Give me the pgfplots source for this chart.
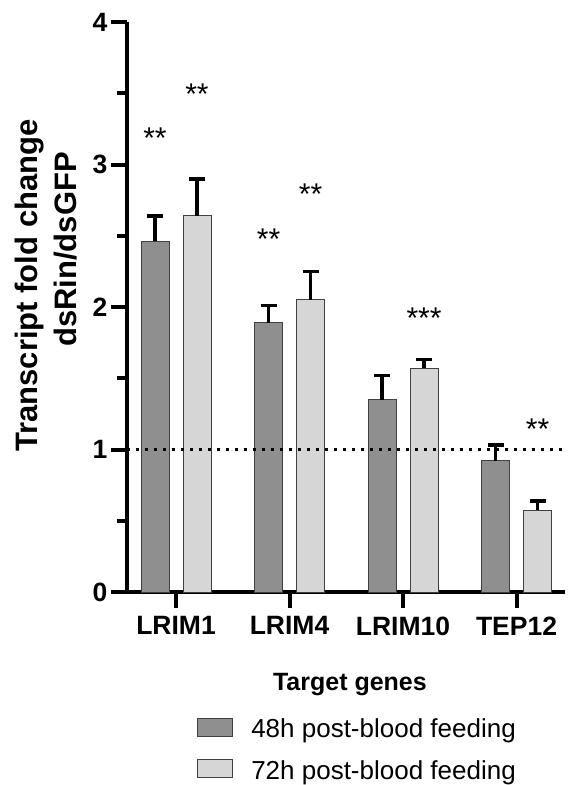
\documentclass[border=0pt]{standalone}
\usepackage{pgfplots}
\pgfplotsset{compat=1.18}
\usepackage{fontspec}
\setmainfont{Liberation Sans}

\definecolor{darkbar}{HTML}{8F8F8F}
\definecolor{lightbar}{HTML}{D6D6D6}
\definecolor{edge}{HTML}{404040}

% bar heights and upper error (SEM)
\pgfplotstableread{
x y e
-0.185 2.46 0.18
0.815 1.89 0.12
1.815 1.35 0.17
2.815 0.92 0.11
}\hdata
\pgfplotstableread{
x y e
0.185 2.64 0.26
1.185 2.05 0.20
2.185 1.57 0.06
3.185 0.575 0.065
}\sdata
% significance marks
\pgfplotstableread{
x y lab
-0.185 3.185 **
0.185 3.495 **
0.815 2.475 **
1.185 2.79 **
2.185 1.92 ***
3.185 1.145 **
}\stars

\begin{document}
\begin{tikzpicture}
\path[use as bounding box] (-127pt,-193pt) rectangle (442pt,592pt);
\begin{axis}[
    scale only axis,
    width=438pt, height=570pt,
    xmin=-0.4317, xmax=3.427,
    ymin=0, ymax=4,
    clip=false,
    axis x line=bottom, axis y line=left,
    axis line style={line width=4pt, -},
    xtick={0,1,2,3},
    xticklabels={LRIM1, LRIM4, LRIM10, TEP12},
    ytick={0,1,2,3,4},
    minor ytick={0.5,1.5,2.5,3.5},
    tick align=outside,
    major tick length=16pt,
    minor tick length=10pt,
    tick style={line width=4pt, black},
    /pgf/number format/assume math mode=true,
    ticklabel style={font=\bfseries\fontsize{26.5}{26.5}\selectfont},
    xticklabel style={yshift=-5pt},
    xlabel={Target genes},
    xlabel style={at={(axis description cs:0.509,-0.172)}, anchor=base,
        inner sep=0pt, font=\bfseries\fontsize{25}{25}\selectfont},
    ylabel={Transcript fold change\\\hspace*{105pt}dsRin/dsGFP},
    ylabel style={at={(axis description cs:-0.2557,0.2456)}, anchor=north west,
        inner sep=0pt, align=left, font=\bfseries\fontsize{31}{39}\selectfont},
    legend style={at={(axis description cs:0.16,-0.2202)}, anchor=north west,
        draw=none, fill=none, inner sep=0pt, row sep=20pt,
        font=\fontsize{26}{26}\selectfont,
        nodes={inner sep=0pt},
        /tikz/every odd column/.append style={column sep=18pt}},
    legend cell align=left,
]
\addplot[ybar, bar width=28pt, bar shift=0pt, fill=darkbar, draw=edge, line width=1pt,
    legend image code/.code={\draw[fill=darkbar, draw=edge, line width=1pt] (0pt,-7pt) rectangle (35pt,11pt);},
    error bars/.cd, y dir=plus, y explicit,
    error bar style={line width=3.5pt, black},
    error mark options={rotate=90, mark size=8pt, line width=3.5pt, black}]
    table[x=x, y=y, y error=e] {\hdata};
\addlegendentry{48h post-blood feeding}
\addplot[ybar, bar width=28pt, bar shift=0pt, fill=lightbar, draw=edge, line width=1pt,
    legend image code/.code={\draw[fill=lightbar, draw=edge, line width=1pt] (0pt,-7pt) rectangle (35pt,11pt);},
    error bars/.cd, y dir=plus, y explicit,
    error bar style={line width=3.5pt, black},
    error mark options={rotate=90, mark size=8pt, line width=3.5pt, black}]
    table[x=x, y=y, y error=e] {\sdata};
\addlegendentry{72h post-blood feeding}
\addplot[forget plot, black, line width=3pt, dash pattern=on 3pt off 6pt]
    coordinates {(-0.4317,1) (3.427,1)};
\addplot[forget plot, draw=none, nodes near coords, point meta=explicit symbolic,
    every node near coord/.append style={anchor=center, inner sep=0pt,
        font=\fontsize{30}{30}\selectfont}]
    table[x=x, y=y, meta=lab] {\stars};
\end{axis}
\end{tikzpicture}
\end{document}
